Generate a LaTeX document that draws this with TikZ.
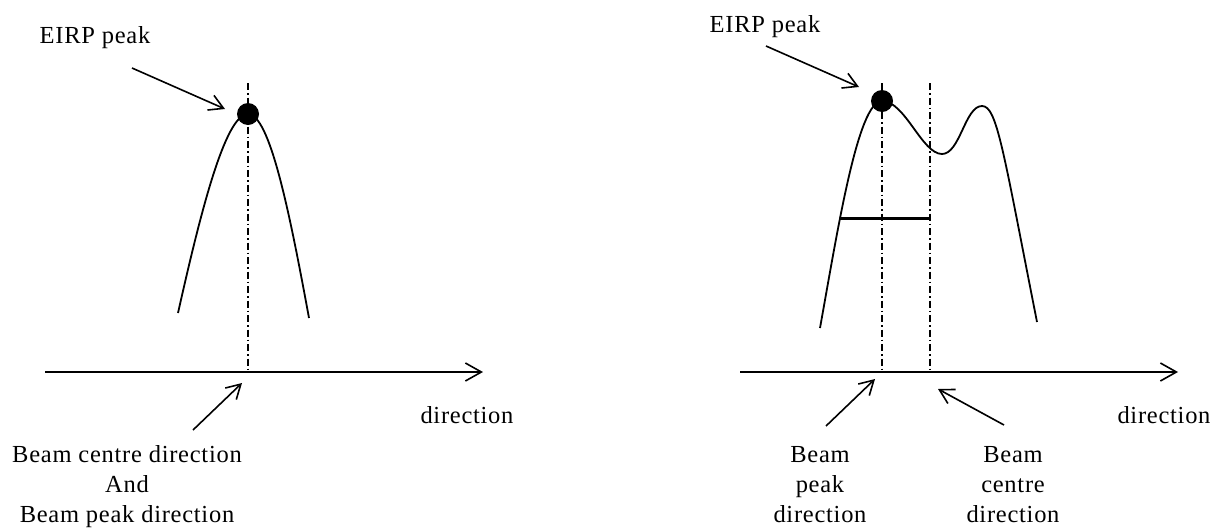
\documentclass[tikz,border=0pt]{standalone}
\usepackage{fontspec}
\setmainfont{Liberation Serif}
\usetikzlibrary{arrows.meta}
\begin{document}
\begin{tikzpicture}[x=1pt,y=-1pt,
  lbl/.style={font=\fontsize{24.5}{30}\selectfont\addfontfeature{LetterSpace=3}, inner sep=0pt, align=center},
  curve/.style={line width=1.8pt},
  axis/.style={line width=1.6pt, -{Straight Barb[length=16pt,width=18pt]}},
  pointer/.style={line width=1.6pt, -{Straight Barb[length=14pt,width=16pt]}},
  dashdot/.style={line width=1.5pt, dash pattern=on 7pt off 3pt on 1.5pt off 3pt},
  peakdot/.style={circle, fill=black, minimum size=22pt, inner sep=0pt},
  bar/.style={line width=3pt},
]
\useasboundingbox (0,0) rectangle (1214,528);

% ---------- left figure ----------
\coordinate (axLs) at (45,372);
\coordinate (axLe) at (483,372);
\draw[axis] (axLs) -- (axLe);
\coordinate (cLtop) at (248,83);
\coordinate (cLbot) at (248,372);
\draw[dashdot] (cLtop) -- (cLbot);
\draw[curve] (178,313) .. controls (200,215) and (225,114) .. (248,114)
             .. controls (270,114) and (290,215) .. (309,318);
\node[peakdot] (dotL) at (248,114) {};

\node[lbl, anchor=base] (eirpL) at (95,43) {EIRP peak};
\coordinate (eLs) at (132,68);
\coordinate (eLe) at (225,109);
\draw[pointer] (eLs) -- (eLe);

\node[lbl, anchor=base] (dirL) at (467,423) {direction};

\node[lbl, anchor=north] (bothL) at (127,445) {Beam centre direction\\And\\Beam peak direction};
\coordinate (bLs) at (193,430);
\coordinate (bLe) at (242,383);
\draw[pointer] (bLs) -- (bLe);

% ---------- right figure ----------
\coordinate (axRs) at (740,372);
\coordinate (axRe) at (1178,372);
\draw[axis] (axRs) -- (axRe);
\coordinate (pRtop) at (882,83);
\coordinate (pRbot) at (882,372);
\draw[dashdot] (pRtop) -- (pRbot);
\coordinate (cRtop) at (930,83);
\coordinate (cRbot) at (930,372);
\draw[dashdot] (cRtop) -- (cRbot);
\draw[curve] (820,328) .. controls (838,228) and (858,101) .. (882,101)
             .. controls (905,101) and (922,154) .. (942,154)
             .. controls (960,154) and (965,106) .. (982,106)
             .. controls (997,106) and (1003,150) .. (1037,322);
\coordinate (barA) at (840,218);
\coordinate (barB) at (930,218);
\draw[bar] (barA) -- (barB);
\node[peakdot] (dotR) at (882,101) {};

\node[lbl, anchor=base] (eirpR) at (765,32) {EIRP peak};
\coordinate (eRs) at (766,46);
\coordinate (eRe) at (859,87);
\draw[pointer] (eRs) -- (eRe);

\node[lbl, anchor=base] (dirR) at (1164,423) {direction};

\node[lbl, anchor=north] (peakR) at (820,446) {Beam\\peak\\direction};
\coordinate (bPs) at (826,426);
\coordinate (bPe) at (875,379);
\draw[pointer] (bPs) -- (bPe);

\node[lbl, anchor=north] (centR) at (1013,446) {Beam\\centre\\direction};
\coordinate (bCs) at (1004,425);
\coordinate (bCe) at (938,389);
\draw[pointer] (bCs) -- (bCe);
\end{tikzpicture}
\end{document}
